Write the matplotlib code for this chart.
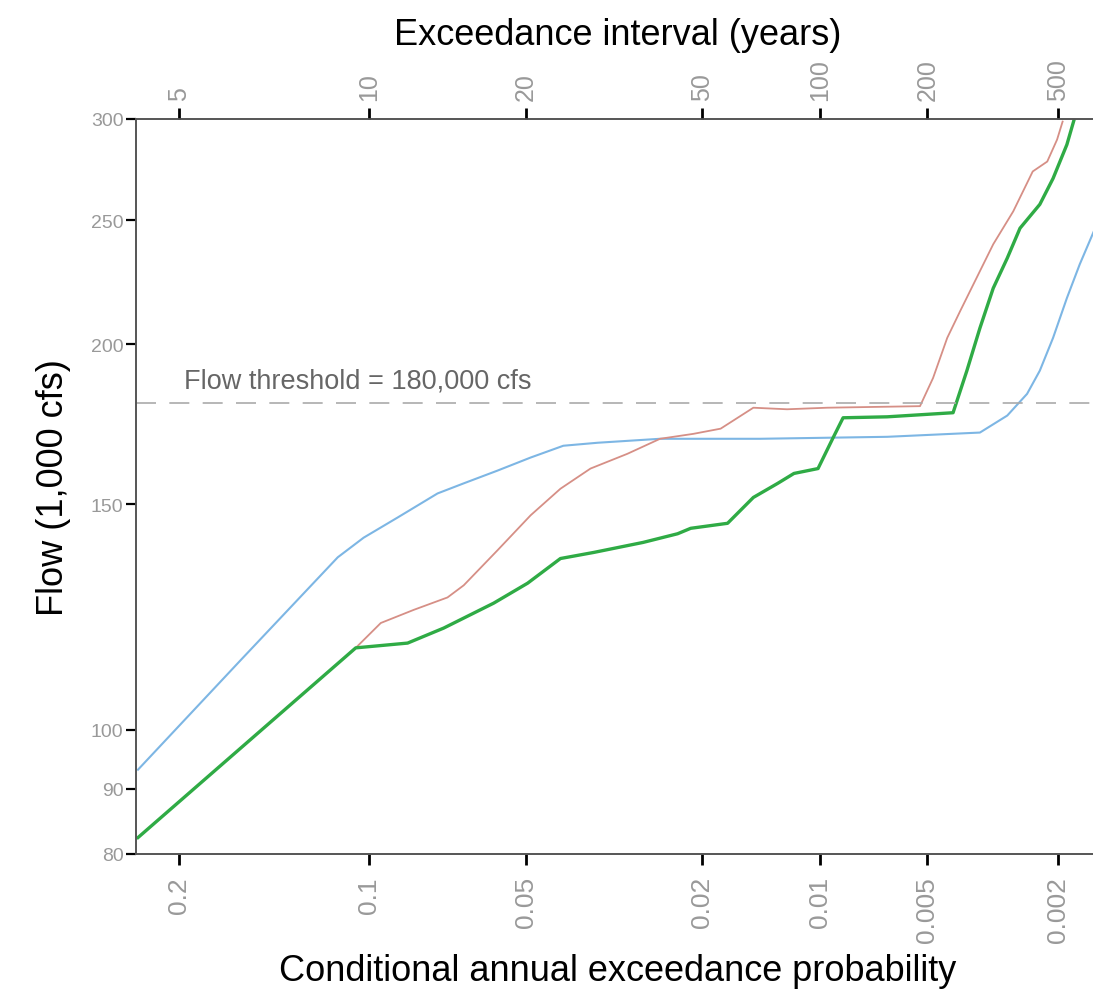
import numpy as np
import matplotlib
matplotlib.use('Agg')
import matplotlib.pyplot as plt
from statistics import NormalDist

plt.rcParams['font.family'] = ['Liberation Sans', 'DejaVu Sans']

# conditional annual exceedance probability / flow (1,000 cfs)
blue_p = [0.2276, 0.1623, 0.1132, 0.1021, 0.0888, 0.0748, 0.0666, 0.0571, 0.0488, 0.0416, 0.0350,
          0.0252, 0.0143, 0.00652, 0.00349, 0.00288, 0.0025, 0.00228, 0.00207, 0.00187, 0.0017, 0.00152]
blue_q = [93.1, 113.4, 136.4, 141.3, 146.5, 153.0, 155.8, 159.4, 163.2, 166.7, 167.6,
          168.8, 168.8, 169.4, 170.7, 176.0, 183.0, 190.8, 202.4, 217.4, 231.0, 246.0]

red_p = [0.2276, 0.1054, 0.0952, 0.0829, 0.0716, 0.0666, 0.0571, 0.0488, 0.0422, 0.0363, 0.0300,
         0.0252, 0.0210, 0.0180, 0.0149, 0.0122, 0.00954, 0.00525, 0.00481, 0.00437, 0.0040,
         0.00349, 0.00318, 0.00276, 0.0024, 0.00216, 0.00201, 0.00193]
red_q = [82.4, 115.9, 121.2, 124.1, 126.9, 129.7, 138.1, 147.1, 154.3, 160.0, 164.3,
         168.8, 170.3, 171.9, 178.5, 178.0, 178.5, 179.0, 188.3, 202.4, 212.4,
         228.2, 239.5, 254.1, 273.0, 277.9, 289.1, 298.6]

green_p = [0.2276, 0.1054, 0.0851, 0.0728, 0.0581, 0.0495, 0.0422, 0.0357, 0.0276, 0.0229, 0.0213,
           0.0173, 0.0149, 0.0129, 0.0117, 0.0101, 0.0092, 0.00864, 0.00652, 0.0042, 0.00382,
           0.00349, 0.00318, 0.00288, 0.00263, 0.00228, 0.00207, 0.00187, 0.00177]
green_q = [82.4, 115.9, 116.9, 120.1, 125.6, 130.2, 136.1, 137.6, 140.1, 142.3, 143.7,
           145.0, 151.9, 155.8, 158.6, 160.0, 169.1, 175.3, 175.6, 176.9, 190.8,
           206.0, 221.3, 233.6, 246.5, 257.3, 269.6, 286.5, 300.0]

threshold = 180
prob_ticks = [0.2, 0.1, 0.05, 0.02, 0.01, 0.005, 0.002]
prob_labels = ['0.2', '0.1', '0.05', '0.02', '0.01', '0.005', '0.002']
year_ticks = [5, 10, 20, 50, 100, 200, 500]
flow_ticks = [80, 90, 100, 150, 200, 250, 300]

_nd = NormalDist()


# normal probability scale (increasing in p, axis limits given reversed)
def prob_to_z(p):
    p = np.clip(np.asarray(p, dtype=float), 1e-9, 1 - 1e-9)
    return np.vectorize(_nd.inv_cdf, otypes=[float])(p)


def z_to_prob(z):
    z = np.asarray(z, dtype=float)
    return np.vectorize(_nd.cdf, otypes=[float])(z)


def setup_x(ax):
    ax.set_xscale('function', functions=(prob_to_z, z_to_prob))
    ax.set_xlim(0.229, 0.00146)
    ax.xaxis.set_minor_locator(matplotlib.ticker.NullLocator())


fig = plt.figure(figsize=(10.93, 10.04), dpi=100)
ax = fig.add_axes([136 / 1093, 1 - 855 / 1004, 964 / 1093, 735 / 1004])

ax.plot(blue_p, blue_q, color='#7db6e4', linewidth=1.5)
ax.plot(red_p, red_q, color='#d68f86', linewidth=1.3)
ax.plot(green_p, green_q, color='#2fab45', linewidth=2.4)
ax.axhline(threshold, color='#aaaaaa', linewidth=1.2, dashes=(12, 8))
ax.text(0.197, 183.0, 'Flow threshold = 180,000 cfs', fontsize=19.5, color='#666666',
        ha='left', va='bottom')

setup_x(ax)
ax.set_yscale('log')
ax.set_ylim(80, 300)
ax.set_yticks(flow_ticks)
ax.set_yticklabels([str(v) for v in flow_ticks])
ax.yaxis.set_minor_locator(matplotlib.ticker.NullLocator())
ax.set_xticks(prob_ticks)
ax.set_xticklabels(prob_labels, rotation=90)

ax.tick_params(axis='y', direction='out', length=7, width=1.6, colors='black',
               labelcolor='#999999', labelsize=14, pad=2)
ax.tick_params(axis='x', direction='out', length=8, width=2, colors='black',
               labelcolor='#999999', labelsize=19, pad=8)

ax.set_xlabel('Conditional annual exceedance probability', fontsize=26, labelpad=8)
ax.set_ylabel('Flow (1,000 cfs)', fontsize=26, labelpad=14)

ax2 = ax.twiny()
setup_x(ax2)
ax2.set_xticks([1 / t for t in year_ticks])
ax2.set_xticklabels([str(t) for t in year_ticks], rotation=90)
ax2.tick_params(axis='x', direction='out', length=8, width=2, colors='black',
                labelcolor='#999999', labelsize=18, pad=6)
ax2.set_xlabel('Exceedance interval (years)', fontsize=26, labelpad=10)

for a in (ax, ax2):
    a.spines['right'].set_visible(False)
    for s in ('left', 'top', 'bottom'):
        a.spines[s].set_color('#555555')
        a.spines[s].set_linewidth(1.2)

fig.savefig('out.png', dpi=100)
